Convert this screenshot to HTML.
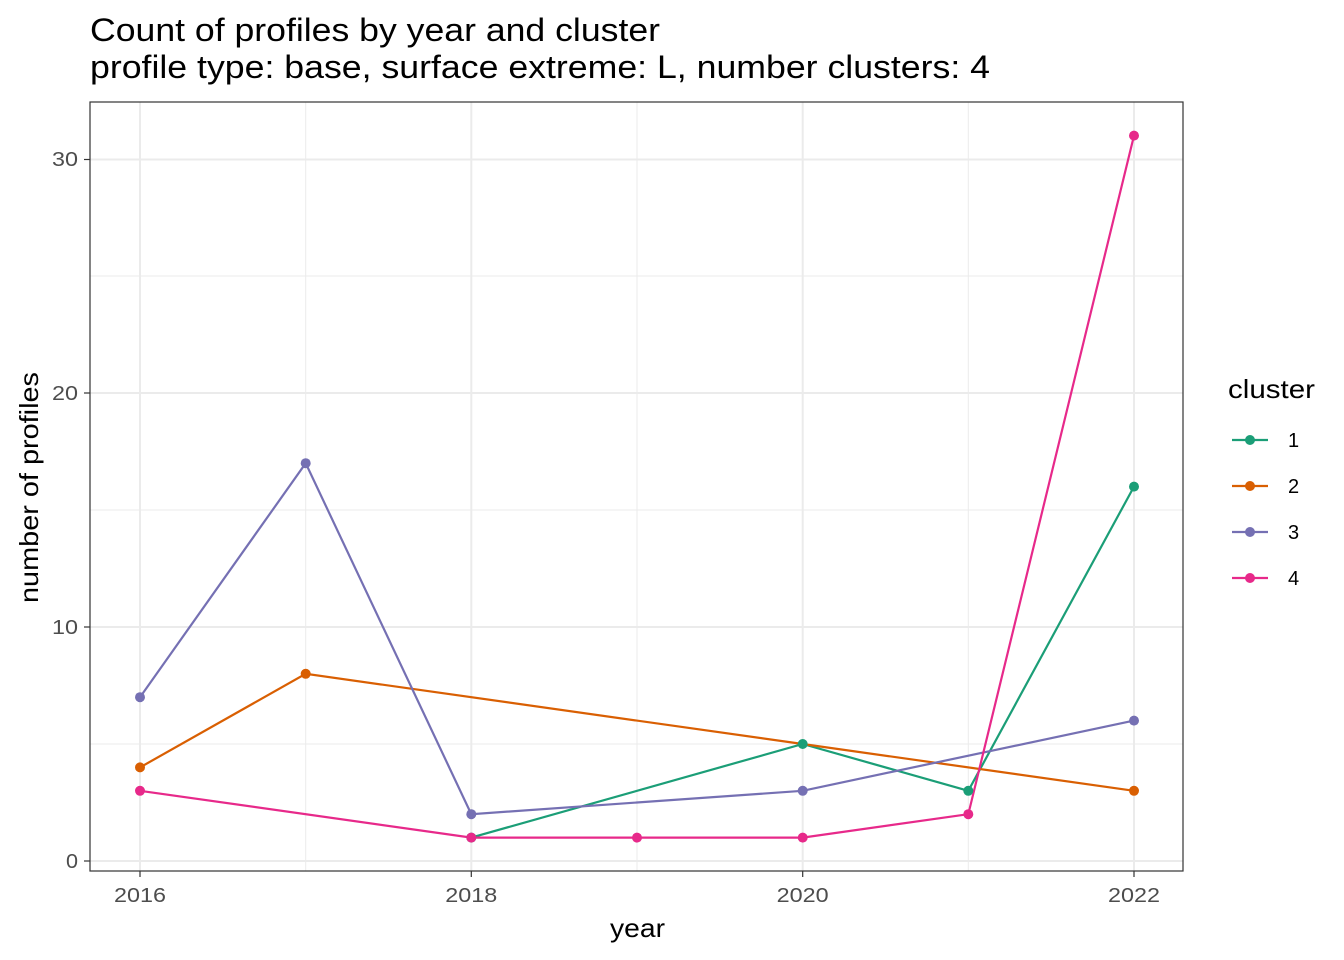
<!DOCTYPE html>
<html><head><meta charset="utf-8"><style>body{margin:0;background:#fff}svg{display:block}text{font-family:"Liberation Sans",sans-serif}</style></head><body>
<svg width="1344" height="960" xmlns="http://www.w3.org/2000/svg">
<rect width="1344" height="960" fill="#fff"/>
<g stroke="#EBEBEB" stroke-width="1">
<line x1="90" x2="1183" y1="744" y2="744"/><line x1="90" x2="1183" y1="510" y2="510"/><line x1="90" x2="1183" y1="276" y2="276"/>
<line x1="305.7" x2="305.7" y1="102" y2="871"/><line x1="637" x2="637" y1="102" y2="871"/><line x1="968.3" x2="968.3" y1="102" y2="871"/>
</g>
<g stroke="#EBEBEB" stroke-width="2">
<line x1="90" x2="1183" y1="861" y2="861"/><line x1="90" x2="1183" y1="627" y2="627"/><line x1="90" x2="1183" y1="393" y2="393"/><line x1="90" x2="1183" y1="159.5" y2="159.5"/>
<line x1="140" x2="140" y1="102" y2="871"/><line x1="471.3" x2="471.3" y1="102" y2="871"/><line x1="802.7" x2="802.7" y1="102" y2="871"/><line x1="1134" x2="1134" y1="102" y2="871"/>
</g>
<g fill="none" stroke-width="2.2">
<polyline stroke="#1B9E77" points="471.3,837.6 802.7,744 968.3,790.8 1134,486.6"/>
<polyline stroke="#D95F02" points="140,767.4 305.7,673.8 802.7,744 1134,790.8"/>
<polyline stroke="#7570B3" points="140,697.2 305.7,463.2 471.3,814.2 802.7,790.8 1134,720.6"/>
<polyline stroke="#E7298A" points="140,790.8 471.3,837.6 637,837.6 802.7,837.6 968.3,814.2 1134,135.6"/>
</g>
<g fill="#1B9E77"><circle cx="471.3" cy="837.6" r="5"/><circle cx="802.7" cy="744" r="5"/><circle cx="968.3" cy="790.8" r="5"/><circle cx="1134" cy="486.6" r="5"/></g>
<g fill="#D95F02"><circle cx="140" cy="767.4" r="5"/><circle cx="305.7" cy="673.8" r="5"/><circle cx="1134" cy="790.8" r="5"/></g>
<g fill="#7570B3"><circle cx="140" cy="697.2" r="5"/><circle cx="305.7" cy="463.2" r="5"/><circle cx="471.3" cy="814.2" r="5"/><circle cx="802.7" cy="790.8" r="5"/><circle cx="1134" cy="720.6" r="5"/></g>
<g fill="#E7298A"><circle cx="140" cy="790.8" r="5"/><circle cx="471.3" cy="837.6" r="5"/><circle cx="637" cy="837.6" r="5"/><circle cx="802.7" cy="837.6" r="5"/><circle cx="968.3" cy="814.2" r="5"/><circle cx="1134" cy="135.6" r="5"/></g>
<rect x="90" y="102" width="1093" height="769" fill="none" stroke="#333" stroke-width="1.2"/>
<g stroke="#333" stroke-width="1.2">
<line x1="84" x2="90" y1="861" y2="861"/><line x1="84" x2="90" y1="627" y2="627"/><line x1="84" x2="90" y1="393" y2="393"/><line x1="84" x2="90" y1="159.5" y2="159.5"/>
<line x1="140" x2="140" y1="871" y2="877"/><line x1="471.3" x2="471.3" y1="871" y2="877"/><line x1="802.7" x2="802.7" y1="871" y2="877"/><line x1="1134" x2="1134" y1="871" y2="877"/>
</g>
<g font-size="20" fill="#4D4D4D" text-anchor="end" lengthAdjust="spacingAndGlyphs"><text x="78" y="868" textLength="12" lengthAdjust="spacingAndGlyphs">0</text><text x="78" y="634" textLength="26" lengthAdjust="spacingAndGlyphs">10</text><text x="78" y="400" textLength="26" lengthAdjust="spacingAndGlyphs">20</text><text x="78" y="166" textLength="26" lengthAdjust="spacingAndGlyphs">30</text></g>
<g font-size="20" fill="#4D4D4D"><text x="114" y="902" textLength="52" lengthAdjust="spacingAndGlyphs">2016</text><text x="445.3" y="902" textLength="52" lengthAdjust="spacingAndGlyphs">2018</text><text x="776.7" y="902" textLength="52" lengthAdjust="spacingAndGlyphs">2020</text><text x="1108" y="902" textLength="52" lengthAdjust="spacingAndGlyphs">2022</text></g>
<text x="610" y="937" font-size="26" textLength="55" lengthAdjust="spacingAndGlyphs">year</text>
<text transform="translate(38,603) rotate(-90)" font-size="26" textLength="231" lengthAdjust="spacingAndGlyphs">number of profiles</text>
<text x="90" y="41" font-size="32" textLength="570" lengthAdjust="spacingAndGlyphs">Count of profiles by year and cluster</text>
<text x="90" y="78" font-size="32" textLength="900" lengthAdjust="spacingAndGlyphs">profile type: base, surface extreme: L, number clusters: 4</text>
<text x="1228" y="398" font-size="26" textLength="87" lengthAdjust="spacingAndGlyphs">cluster</text>
<g stroke-width="2.2"><line x1="1232" x2="1268" y1="440" y2="440" stroke="#1B9E77"/><line x1="1232" x2="1268" y1="486" y2="486" stroke="#D95F02"/><line x1="1232" x2="1268" y1="532" y2="532" stroke="#7570B3"/><line x1="1232" x2="1268" y1="578" y2="578" stroke="#E7298A"/></g>
<circle cx="1250" cy="440" r="5" fill="#1B9E77"/><circle cx="1250" cy="486" r="5" fill="#D95F02"/><circle cx="1250" cy="532" r="5" fill="#7570B3"/><circle cx="1250" cy="578" r="5" fill="#E7298A"/>
<g font-size="20"><text x="1288" y="447">1</text><text x="1288" y="493">2</text><text x="1288" y="539">3</text><text x="1288" y="585">4</text></g>
</svg>
</body></html>
